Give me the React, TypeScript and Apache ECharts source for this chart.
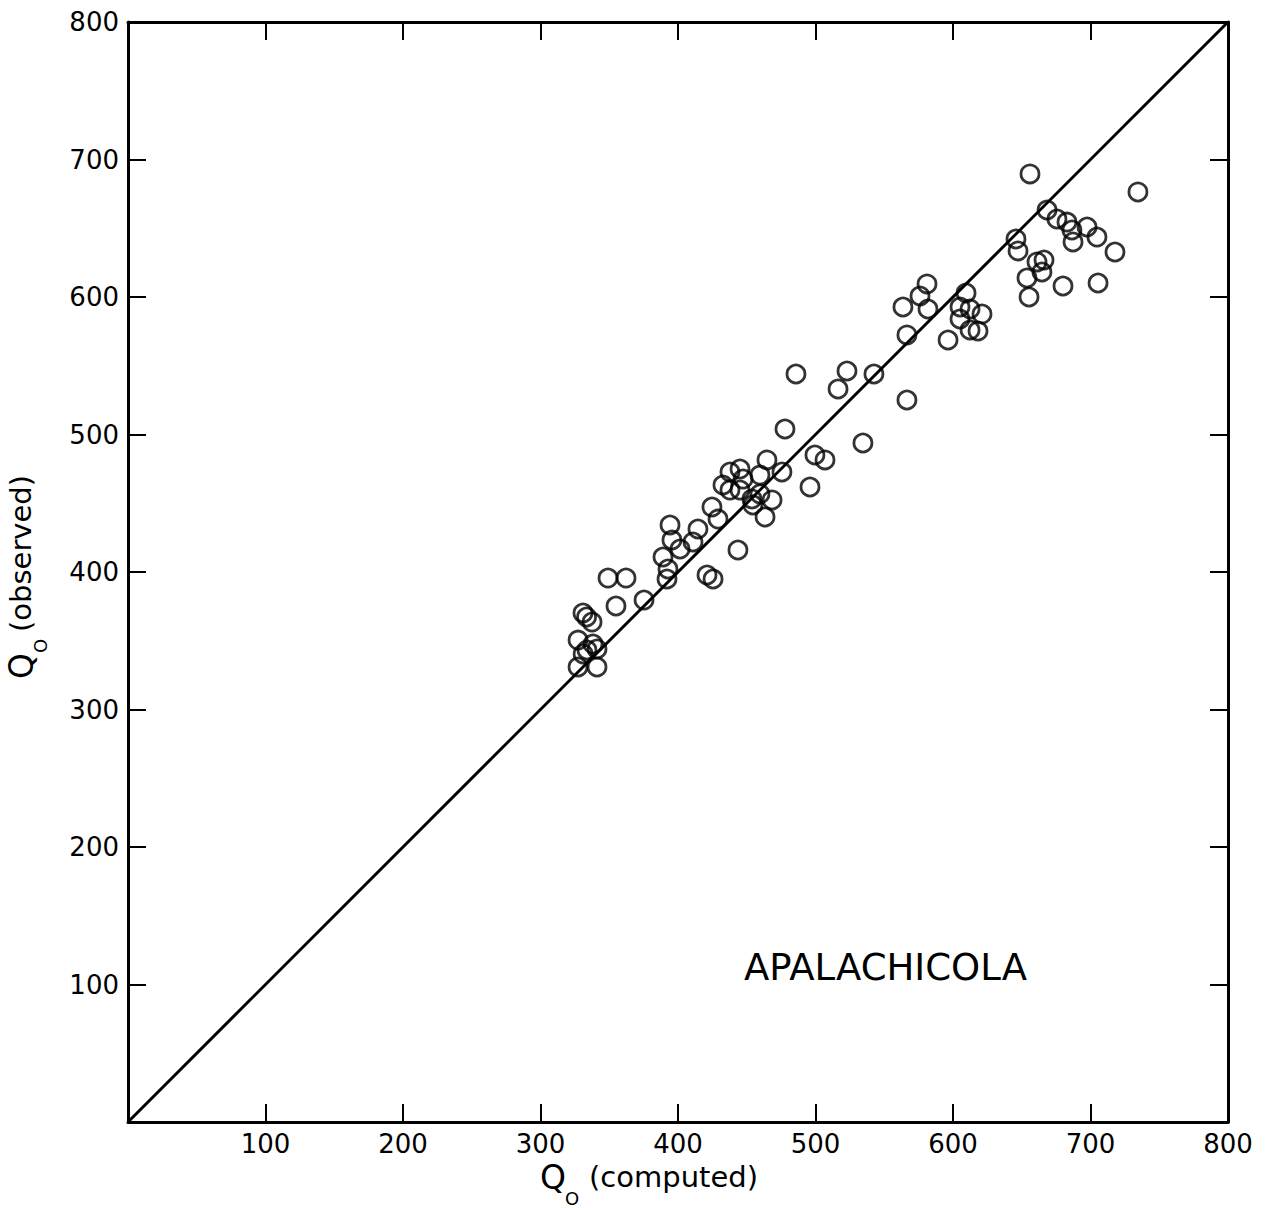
import React, { useEffect, useRef } from "react";
import * as echarts from "echarts";

// Q0 (computed) vs Q0 (observed)
const computed: number[] = [
  330.9, 333.5, 337.5, 327.3, 338.2, 333.8, 341.1, 327.3, 341.1, 331.0,
  349.1, 362.2, 354.9, 375.3, 394.2, 395.6, 401.5, 414.5, 410.9, 389.1,
  392.7, 392.0, 424.7, 429.1, 421.1, 425.5, 443.6, 437.8, 445.1, 432.7,
  437.8, 447.3, 445.1, 459.6, 464.7, 475.6, 453.8, 459.6, 454.5, 468.4,
  463.3, 496.0, 499.6, 506.9, 477.8, 485.8, 522.9, 516.4, 542.5, 566.5,
  534.5, 581.1, 576.0, 581.8, 563.6, 566.5, 596.4, 609.5, 605.1, 612.4,
  605.1, 621.1, 612.4, 618.2, 656.0, 734.5, 668.4, 675.6, 682.9, 686.5,
  697.5, 687.3, 704.7, 717.8, 645.8, 647.3, 661.1, 666.2, 664.7, 653.8,
  680.0, 705.5, 655.3,
];
const observed: number[] = [
  370.2, 367.3, 363.6, 350.5, 347.6, 343.3, 344.0, 330.9, 330.9, 340.4,
  395.6, 395.6, 375.3, 379.6, 434.2, 423.3, 416.7, 431.3, 421.8, 410.9,
  402.2, 394.9, 447.3, 438.5, 397.8, 394.9, 416.0, 472.7, 474.9, 463.3,
  459.6, 467.6, 459.6, 470.5, 481.5, 472.7, 453.1, 456.7, 448.7, 452.4,
  440.0, 461.8, 485.1, 481.5, 504.0, 544.0, 546.2, 533.1, 544.0, 525.1,
  493.8, 609.5, 600.7, 591.3, 592.7, 572.4, 568.7, 602.9, 592.7, 591.3,
  584.0, 587.6, 576.0, 575.3, 689.5, 676.4, 663.3, 656.7, 654.5, 648.7,
  650.9, 640.0, 643.6, 632.7, 642.2, 633.5, 625.5, 626.9, 618.2, 613.8,
  608.0, 610.2, 600.0,
];
const lineOfEquality: number[][] = [
  [0, 0],
  [800, 800],
];
const tickValues: number[] = [100, 200, 300, 400, 500, 600, 700, 800];

const FONT = "DejaVu Sans";

export default function App() {
  const ref = useRef<HTMLDivElement>(null);
  useEffect(() => {
    if (!ref.current) return;
    const chart = echarts.init(ref.current, undefined, { renderer: "svg" });
    const pts = computed.map((c, i) => [c, observed[i]]);
    const fmt = (v: number) => (tickValues.indexOf(v) >= 0 ? String(v) : "");
    const baseAxis = (show: boolean, pos: string) => ({
      type: "value",
      min: 0,
      max: 800,
      interval: 100,
      position: pos,
      axisLine: { show: true, onZero: false, lineStyle: { color: "#000", width: 3 } },
      axisTick: { show: true, inside: true, length: 18, lineStyle: { color: "#000", width: 2 } },
      axisLabel: {
        show,
        formatter: fmt,
        color: "#000",
        fontSize: 26,
        fontFamily: FONT,
        margin: 9,
      },
      splitLine: { show: false },
    });
    chart.setOption({
      animation: false,
      backgroundColor: "#fff",
      grid: { left: 128, top: 22, width: 1100, height: 1100, containLabel: false },
      xAxis: [baseAxis(true, "bottom"), baseAxis(false, "top")],
      yAxis: [baseAxis(true, "left"), baseAxis(false, "right")],
      series: [
        {
          type: "line",
          data: lineOfEquality,
          showSymbol: false,
          symbol: "none",
          lineStyle: { color: "#000", width: 3 },
          z: 2,
        },
        {
          type: "scatter",
          data: pts,
          symbol: "circle",
          symbolSize: 18,
          itemStyle: { color: "rgba(0,0,0,0)", borderColor: "#000", borderWidth: 2.8 },
          z: 3,
        },
      ],
      graphic: [
        {
          type: "text",
          x: 744,
          y: 949,
          style: { text: "APALACHICOLA", fontSize: 37, fontFamily: FONT, fill: "#000", align: "left", verticalAlign: "top" },
        },
        {
          type: "text",
          x: 540,
          y: 1161,
          style: { text: "Q", fontSize: 33, fontFamily: FONT, fill: "#000", align: "left", verticalAlign: "top" },
        },
        {
          type: "text",
          x: 565,
          y: 1189,
          style: { text: "O", fontSize: 18, fontFamily: FONT, fill: "#000", align: "left", verticalAlign: "top" },
        },
        {
          type: "text",
          x: 589,
          y: 1162,
          style: { text: "(computed)", fontSize: 29, fontFamily: FONT, fill: "#000", align: "left", verticalAlign: "top" },
        },
        {
          type: "group",
          x: 5,
          y: 679,
          rotation: Math.PI / 2,
          children: [
            {
              type: "text",
              x: 0,
              y: 0,
              style: { text: "Q", fontSize: 33, fontFamily: FONT, fill: "#000", align: "left", verticalAlign: "top" },
            },
            {
              type: "text",
              x: 26,
              y: 26,
              style: { text: "O", fontSize: 18, fontFamily: FONT, fill: "#000", align: "left", verticalAlign: "top" },
            },
            {
              type: "text",
              x: 47,
              y: 1,
              style: { text: "(observed)", fontSize: 29, fontFamily: FONT, fill: "#000", align: "left", verticalAlign: "top" },
            },
          ],
        },
      ],
    });
    return () => chart.dispose();
  }, []);
  return <div ref={ref} style={{ width: 1269, height: 1208, position: "absolute", left: 0, top: 0 }} />;
}
